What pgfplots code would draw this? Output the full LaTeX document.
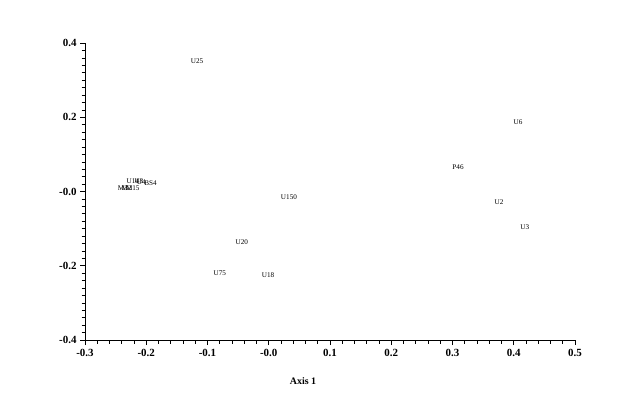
\documentclass[border=0pt]{standalone}
\usepackage{fontspec}
\setmainfont{Liberation Serif}
\usepackage{pgfplots}
\pgfplotsset{compat=1.18}
\begin{document}
\begin{tikzpicture}[x=1bp,y=1bp]
\useasboundingbox (0,0) rectangle (624,413);
\begin{axis}[
  at={(85bp,73bp)}, anchor=south west,
  scale only axis, width=490bp, height=297bp,
  xmin=-0.3, xmax=0.5, ymin=-0.4, ymax=0.4,
  axis lines=left, axis line style={-, line width=0.6pt},
  tick align=outside,
  xtick={-0.3,-0.2,-0.1,0,0.1,0.2,0.3,0.4,0.5},
  xticklabels={-0.3,-0.2,-0.1,-0.0,0.1,0.2,0.3,0.4,0.5},
  ytick={-0.4,-0.2,0,0.2,0.4},
  yticklabels={-0.4,-0.2,-0.0,0.2,0.4},
  minor x tick num=4, minor y tick num=9,
  major tick length=5bp, minor tick length=3.5bp,
  every tick/.style={black, line width=0.6pt},
  ticklabel style={font=\bfseries\fontsize{11}{13}\selectfont},
  xticklabel style={yshift=-0.5bp},
  xlabel={Axis 1},
  xlabel style={font=\bfseries\fontsize{10}{12}\selectfont, at={(axis description cs:0.445,0)}, anchor=north, yshift=-34bp},
  clip=false,
]
\addplot[draw=none, mark=none, nodes near coords, point meta=explicit symbolic,
  nodes near coords style={anchor=center, yshift=1.5bp, font=\fontsize{7.2}{8}\selectfont, inner sep=0pt}]
  table[meta=label] {
x y label
-0.117 0.347 U25
0.407 0.183 U6
0.309 0.062 P46
0.376 -0.032 U2
0.418 -0.100 U3
0.033 -0.019 U150
-0.044 -0.140 U20
-0.080 -0.224 U75
-0.001 -0.229 U18
-0.222 0.025 U14
-0.212 0.023 U8
-0.208 0.022 U4
-0.193 0.019 BS4
-0.238 0.005 M3
-0.232 0.005 M2
-0.222 0.005 M15
};
\end{axis}
\end{tikzpicture}
\end{document}
